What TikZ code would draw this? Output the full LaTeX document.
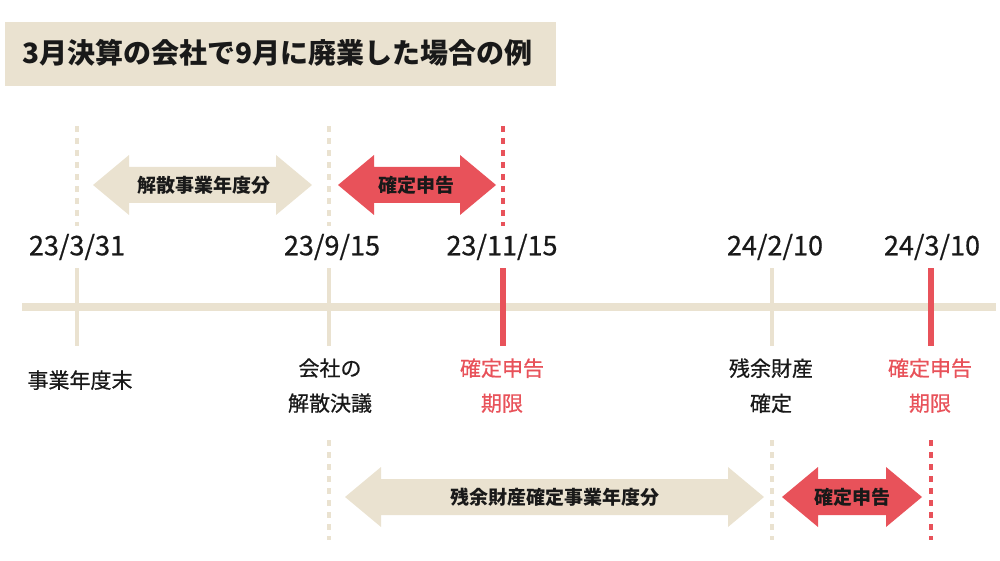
\documentclass[tikz,border=0pt]{standalone}
\usepackage{fontspec}
\setmainfont{Noto Sans CJK JP}
\newfontfamily\medfont[FakeBold=0.6]{Noto Sans CJK JP}
\definecolor{beige}{RGB}{234,226,208}
\definecolor{redc}{RGB}{232,82,90}
\definecolor{txt}{RGB}{25,25,25}
\tikzset{
  datelbl/.style={font=\medfont\fontsize{13.5}{16}\selectfont, text=txt, inner sep=0pt},
  evlbl/.style={font=\medfont\fontsize{10.5}{17.5}\selectfont, text=txt, inner sep=0pt, align=center, anchor=north},
  evred/.style={evlbl, text=redc},
  tickb/.style={draw=beige, line width=2pt},
  tickr/.style={draw=redc, line width=2.6pt},
  dashb/.style={draw=beige, line width=1.8pt, dash pattern=on 3pt off 3pt},
  dashr/.style={draw=redc, line width=1.8pt, dash pattern=on 3pt off 3pt},
  arrtxt/.style={font=\bfseries\fontsize{9.5}{11}\selectfont, text=txt, inner sep=0pt},
}
\newcommand{\dblarr}[4]{% x1 x2 y color
  \fill[#4] (#1,#3) -- (#1+36,#3-30) -- (#1+36,#3-18) -- (#2-36,#3-18) -- (#2-36,#3-30)
   -- (#2,#3) -- (#2-36,#3+30) -- (#2-36,#3+18) -- (#1+36,#3+18) -- (#1+36,#3+30) -- cycle;}
\begin{document}
\begin{tikzpicture}[x=0.5pt,y=-0.5pt]
\useasboundingbox (0,0) rectangle (1000,561);
% title
\fill[beige] (5,22) rectangle (556,86);
\node[font=\bfseries\fontsize{14}{16}\selectfont, text=txt, anchor=west, inner sep=0pt] (title) at (22,53) {3月決算の会社で9月に廃業した場合の例};
% dashed lines top
\draw[dashb] (77,126) -- (77,226);
\draw[dashb] (329,126) -- (329,226);
\draw[dashr] (503,126) -- (503,226);
% dashed lines bottom
\draw[dashb] (329,440) -- (329,540);
\draw[dashb] (772,440) -- (772,540);
\draw[dashr] (931,440) -- (931,540);
% top arrows
\dblarr{93}{312}{185}{beige}
\node[arrtxt] (a1) at (204,185) {解散事業年度分};
\dblarr{338}{496}{185}{redc}
\node[arrtxt] (a2) at (416,185) {確定申告};
% bottom arrows
\dblarr{345}{764}{497}{beige}
\node[arrtxt] (a3) at (555,497) {残余財産確定事業年度分};
\dblarr{782}{922}{497}{redc}
\node[arrtxt] (a4) at (852,497) {確定申告};
% main line
\draw[beige, line width=4pt] (22,307) -- (996,307);
\draw[tickb] (77,268) -- (77,346);
\draw[tickb] (329,268) -- (329,346);
\draw[tickr] (503,268) -- (503,346);
\draw[tickb] (772,268) -- (772,346);
\draw[tickr] (931,268) -- (931,346);
% dates
\node[datelbl] (d1) at (77,247) {23/3/31};
\node[datelbl] (d2) at (332,247) {23/9/15};
\node[datelbl] (d3) at (502,247) {23/11/15};
\node[datelbl] (d4) at (775,247) {24/2/10};
\node[datelbl] (d5) at (932,247) {24/3/10};
% event labels
\node[evlbl] (e1) at (80,370) {事業年度末};
\node[evlbl] (e2) at (330,358) {会社の\\解散決議};
\node[evred] (e3) at (502,358) {確定申告\\期限};
\node[evlbl] (e4) at (771,358) {残余財産\\確定};
\node[evred] (e5) at (930,358) {確定申告\\期限};
\end{tikzpicture}
\end{document}
